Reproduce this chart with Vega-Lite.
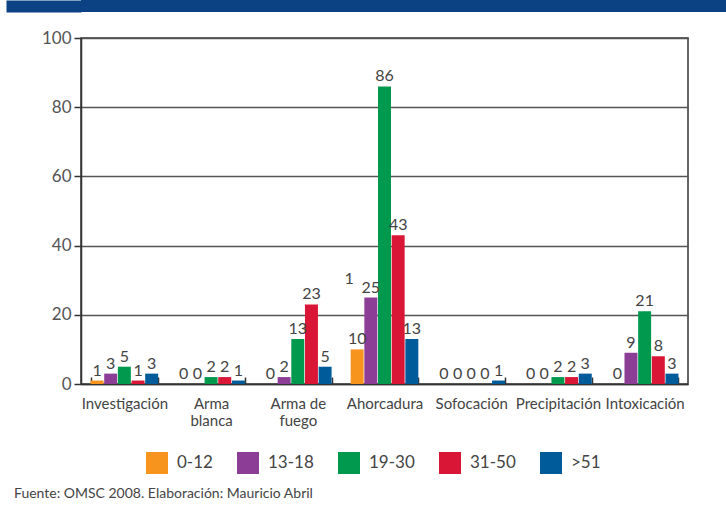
{
  "$schema": "https://vega.github.io/schema/vega-lite/v6.json",
  "padding": 0,
  "background": "white",
  "columns": 1,
  "spacing": 16,
  "title": {
    "text": "Fuente: OMSC 2008. Elaboración: Mauricio Abril",
    "orient": "bottom",
    "anchor": "start",
    "dx": 14,
    "offset": 13,
    "fontSize": 14,
    "fontWeight": "normal",
    "font": "Lato",
    "color": "#444444"
  },
  "config": {
    "font": "Lato",
    "view": {"stroke": "#333333", "strokeWidth": 1.5}
  },
  "concat": [
    {
      "width": 652,
      "height": 12,
      "view": {"fill": "#0B4283", "stroke": null},
      "data": {"values": [{"v": 0.5}]},
      "mark": {"type": "point", "opacity": 0},
      "encoding": {
        "y": {
          "field": "v",
          "type": "quantitative",
          "scale": {"domain": [0, 1]},
          "axis": {
            "title": null,
            "values": [0.5],
            "labels": false,
            "domain": false,
            "grid": false,
            "tickSize": 75,
            "tickWidth": 12,
            "tickColor": "#0B4283",
            "minExtent": 60,
            "maxExtent": 60
          }
        }
      }
    },
    {
      "width": 607,
      "height": 346,
      "data": {
        "values": [
          {"categoria": "Investigación", "edad": "0-12", "valor": 1},
          {"categoria": "Investigación", "edad": "13-18", "valor": 3},
          {"categoria": "Investigación", "edad": "19-30", "valor": 5},
          {"categoria": "Investigación", "edad": "31-50", "valor": 1},
          {"categoria": "Investigación", "edad": ">51", "valor": 3},
          {"categoria": "Arma blanca", "edad": "0-12", "valor": 0},
          {"categoria": "Arma blanca", "edad": "13-18", "valor": 0},
          {"categoria": "Arma blanca", "edad": "19-30", "valor": 2},
          {"categoria": "Arma blanca", "edad": "31-50", "valor": 2},
          {"categoria": "Arma blanca", "edad": ">51", "valor": 1},
          {"categoria": "Arma de fuego", "edad": "0-12", "valor": 0},
          {"categoria": "Arma de fuego", "edad": "13-18", "valor": 2},
          {"categoria": "Arma de fuego", "edad": "19-30", "valor": 13},
          {"categoria": "Arma de fuego", "edad": "31-50", "valor": 23},
          {"categoria": "Arma de fuego", "edad": ">51", "valor": 5},
          {"categoria": "Ahorcadura", "edad": "0-12", "valor": 10},
          {"categoria": "Ahorcadura", "edad": "13-18", "valor": 25},
          {"categoria": "Ahorcadura", "edad": "19-30", "valor": 86},
          {"categoria": "Ahorcadura", "edad": "31-50", "valor": 43},
          {"categoria": "Ahorcadura", "edad": ">51", "valor": 13},
          {"categoria": "Sofocación", "edad": "0-12", "valor": 0},
          {"categoria": "Sofocación", "edad": "13-18", "valor": 0},
          {"categoria": "Sofocación", "edad": "19-30", "valor": 0},
          {"categoria": "Sofocación", "edad": "31-50", "valor": 0},
          {"categoria": "Sofocación", "edad": ">51", "valor": 1},
          {"categoria": "Precipitación", "edad": "0-12", "valor": 0},
          {"categoria": "Precipitación", "edad": "13-18", "valor": 0},
          {"categoria": "Precipitación", "edad": "19-30", "valor": 2},
          {"categoria": "Precipitación", "edad": "31-50", "valor": 2},
          {"categoria": "Precipitación", "edad": ">51", "valor": 3},
          {"categoria": "Intoxicación", "edad": "0-12", "valor": 0},
          {"categoria": "Intoxicación", "edad": "13-18", "valor": 9},
          {"categoria": "Intoxicación", "edad": "19-30", "valor": 21},
          {"categoria": "Intoxicación", "edad": "31-50", "valor": 8},
          {"categoria": "Intoxicación", "edad": ">51", "valor": 3}
        ]
      },
      "encoding": {
        "x": {
          "field": "categoria",
          "type": "nominal",
          "sort": null,
          "scale": {"paddingInner": 0.22, "paddingOuter": 0.11},
          "axis": {
            "title": null,
            "labelAngle": 0,
            "labelFontSize": 15,
            "labelColor": "#444444",
            "labelLineHeight": 17,
            "labelBaseline": "top",
            "labelPadding": 19,
            "tickBand": "extent",
            "tickSize": -7,
            "tickColor": "#333333",
            "tickWidth": 1.5,
            "domainColor": "#333333",
            "domainWidth": 1.5,
            "labelExpr": "datum.value == 'Arma blanca' ? ['Arma', 'blanca'] : datum.value == 'Arma de fuego' ? ['Arma de', 'fuego'] : datum.value"
          }
        },
        "xOffset": {
          "field": "edad",
          "type": "nominal",
          "sort": ["0-12", "13-18", "19-30", "31-50", ">51"],
          "scale": {"paddingInner": 0.05}
        },
        "y": {
          "field": "valor",
          "type": "quantitative",
          "scale": {"domain": [0, 100], "nice": false},
          "axis": {
            "title": null,
            "values": [0, 20, 40, 60, 80, 100],
            "labelFontSize": 17,
            "labelColor": "#555555",
            "labelPadding": 3,
            "tickSize": 7,
            "tickColor": "#333333",
            "tickWidth": 1.5,
            "domainColor": "#333333",
            "domainWidth": 1.5,
            "gridColor": "#555555",
            "gridWidth": 1.5,
            "minExtent": 60,
            "maxExtent": 60
          }
        }
      },
      "layer": [
        {
          "mark": {"type": "bar"},
          "encoding": {
            "color": {
              "field": "edad",
              "type": "nominal",
              "sort": ["0-12", "13-18", "19-30", "31-50", ">51"],
              "scale": {
                "domain": ["0-12", "13-18", "19-30", "31-50", ">51"],
                "range": ["#F7941D", "#8C3E96", "#00994D", "#DA1636", "#005B9A"]
              },
              "legend": {
                "title": null,
                "orient": "none",
                "legendX": 65,
                "legendY": 452,
                "direction": "horizontal",
                "symbolType": "square",
                "symbolSize": 484,
                "symbolStrokeWidth": 0,
                "symbolOpacity": 1,
                "labelFontSize": 17,
                "labelColor": "#444444",
                "labelOffset": 9,
                "columnPadding": 24,
                "padding": 0
              }
            }
          }
        },
        {
          "mark": {"type": "text", "baseline": "bottom", "dy": -2, "fontSize": 16, "color": "#444444"},
          "encoding": {"text": {"field": "valor", "type": "quantitative"}}
        },
        {
          "data": {"values": [{"categoria": "Ahorcadura", "edad": "0-12", "valor": 28, "etiqueta": "1"}]},
          "mark": {"type": "text", "baseline": "bottom", "dx": -8, "fontSize": 16, "color": "#444444"},
          "encoding": {"text": {"field": "etiqueta", "type": "nominal"}}
        }
      ]
    }
  ]
}
